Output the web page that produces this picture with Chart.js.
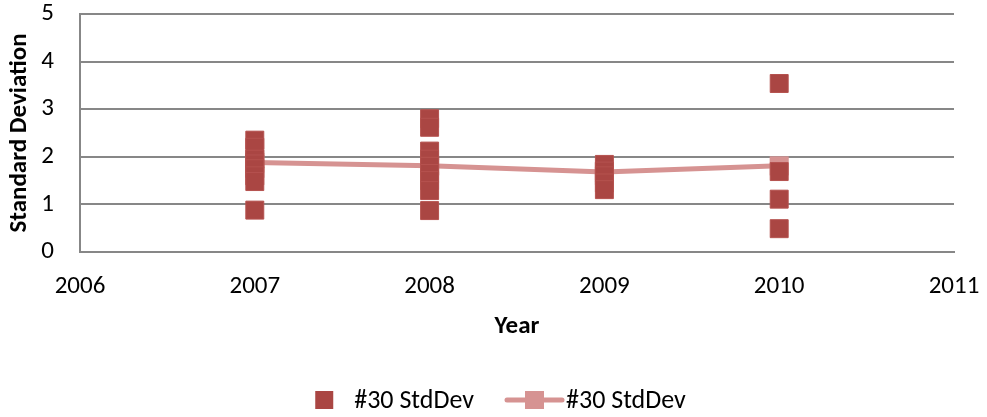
<!DOCTYPE html>
<html>
<head>
<meta charset="utf-8">
<script src="https://cdn.jsdelivr.net/npm/chart.js@4.4.1/dist/chart.umd.min.js"></script>
<style>
  html, body { margin: 0; padding: 0; background: #fff; }
  #wrap { width: 987px; height: 417px; position: relative; }
</style>
</head>
<body>
<div id="wrap"><canvas id="c" width="987" height="417"></canvas></div>
<script>
// ---- data ----
const years = [2007, 2008, 2009, 2010];
const stdDev2007 = [2.35, 2.2, 1.95, 1.85, 1.75, 1.6, 1.48, 0.88];
const stdDev2008 = [2.8, 2.62, 2.12, 1.95, 1.8, 1.65, 1.5, 1.29, 0.87];
const stdDev2009 = [1.84, 1.7, 1.6, 1.45, 1.31];
const stdDev2010 = [3.54, 1.69, 1.11, 0.49];
const stdDevMean = [1.88, 1.81, 1.68, 1.81];
const seriesLabels = ['#30 StdDev', '#30 StdDev'];
const xTickMin = 2006, xTickMax = 2011;
const yTickMin = 0, yTickMax = 5;

const perYear = [stdDev2007, stdDev2008, stdDev2009, stdDev2010];
const scatterPoints = [];
perYear.forEach((vals, i) => vals.forEach(v => scatterPoints.push({ x: years[i], y: v })));
const meanPoints = years.map((y, i) => ({ x: y, y: stdDevMean[i] }));

const FONT = 'Carlito, Calibri, Lato, "Open Sans", sans-serif';
const DARK = '#AA4643';
const LIGHT = '#D69392';
const GRID = '#878787';

const legendPlugin = {
  id: 'customLegend',
  afterDraw(chart) {
    const ctx = chart.ctx;
    ctx.save();
    ctx.font = '26px ' + FONT;
    ctx.textBaseline = 'middle';
    ctx.fillStyle = '#000';
    const y = 400;
    const t1 = ctx.measureText(seriesLabels[0]).width;
    const t2 = ctx.measureText(seriesLabels[1]).width;
    const total = 18 + 21 + t1 + 33 + 55 + 4 + t2;
    let x = (chart.width - total) / 2 + 7;
    ctx.fillStyle = DARK;
    ctx.fillRect(x, y - 9, 18, 18);
    x += 18 + 21;
    ctx.fillStyle = '#000';
    ctx.fillText(seriesLabels[0], x, y + 1);
    x += t1 + 33;
    ctx.strokeStyle = LIGHT;
    ctx.lineWidth = 5;
    ctx.lineCap = 'round';
    ctx.beginPath();
    ctx.moveTo(x, y);
    ctx.lineTo(x + 55, y);
    ctx.stroke();
    ctx.fillStyle = LIGHT;
    ctx.fillRect(x + 18, y - 9, 19, 18);
    x += 55 + 4;
    ctx.fillStyle = '#000';
    ctx.fillText(seriesLabels[1], x, y + 1);
    ctx.restore();
  }
};

new Chart(document.getElementById('c'), {
  type: 'scatter',
  data: {
    datasets: [
      {
        label: seriesLabels[0],
        data: scatterPoints,
        pointStyle: 'rect',
        pointRadius: 12.7,
        pointHoverRadius: 12.7,
        backgroundColor: DARK,
        borderColor: '#B5524F',
        borderWidth: 1,
        showLine: false,
        order: 1
      },
      {
        label: seriesLabels[1],
        data: meanPoints,
        type: 'line',
        showLine: true,
        borderColor: LIGHT,
        borderWidth: 5,
        pointStyle: 'rect',
        pointRadius: 13.5,
        pointHoverRadius: 13.5,
        pointBackgroundColor: LIGHT,
        pointBorderColor: LIGHT,
        pointBorderWidth: 0,
        tension: 0,
        order: 2
      }
    ]
  },
  options: {
    responsive: false,
    animation: false,
    events: [],
    layout: { autoPadding: false, padding: { left: 0, right: 33, top: 14, bottom: 75 } },
    plugins: { legend: { display: false }, tooltip: { enabled: false } },
    scales: {
      x: {
        type: 'linear',
        min: xTickMin, max: xTickMax,
        afterFit(s) { s.height = 90; s.paddingLeft = 0; s.paddingRight = 0; },
        ticks: { stepSize: 1, color: '#000', padding: 20, font: { size: 25, family: FONT }, callback: v => String(v) },
        grid: { display: false, drawTicks: false },
        border: { display: true, color: GRID, width: 2 },
        title: { display: true, text: 'Year', color: '#000', font: { size: 25, weight: 'bold', family: FONT }, padding: { top: 4, bottom: 0 } }
      },
      y: {
        min: yTickMin, max: yTickMax,
        afterFit(s) { s.width = 80; s.paddingTop = 0; s.paddingBottom = 0; },
        ticks: { stepSize: 1, color: '#000', padding: 26, font: { size: 25, family: FONT } },
        grid: { color: GRID, lineWidth: 2, drawTicks: false },
        border: { display: true, color: GRID, width: 2 },
        title: { display: true, text: 'Standard Deviation', color: '#000', font: { size: 25, weight: 'bold', family: FONT }, padding: { top: 5, bottom: 0 } }
      }
    }
  },
  plugins: [legendPlugin]
});
</script>
</body>
</html>
